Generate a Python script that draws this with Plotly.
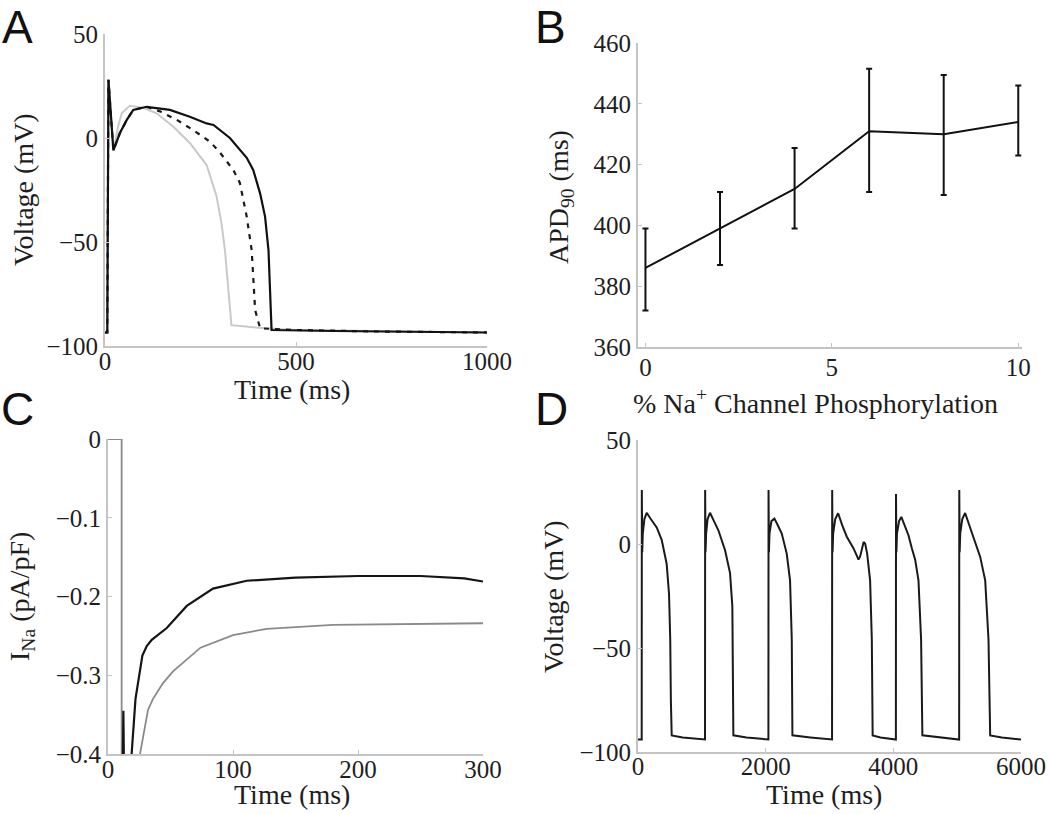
import plotly.graph_objects as go

# ---------------- Panel A : action potentials ----------------
a_black_t = [0, 6, 9, 22, 39, 57, 74, 109, 170, 222, 266, 284, 327, 353, 371, 388, 406, 419, 428, 432, 436, 600, 800, 1000]
a_black_v = [-93.5, -93.5, 28, -6, 2.4, 8.7, 13.5, 15, 13.5, 10.2, 7, 6.3, 0, -5.8, -9.5, -15.4, -26.6, -37.8, -54, -73, -92.3, -92.8, -93.2, -93.5]

a_dash_t = [0, 6, 9, 22, 39, 57, 74, 109, 144, 188, 231, 275, 301, 336, 353, 371, 384, 388, 393, 406, 500, 700, 1000]
a_dash_v = [-93.5, -93.5, 28, -6, 2.4, 8.7, 13.5, 15, 12.8, 8.7, 3.8, -1.8, -7, -15.4, -21.6, -37.8, -54, -70, -82.7, -91.5, -92.3, -93, -93.5]

a_gray_t = [0, 6, 9, 22, 35, 44, 65, 100, 135, 179, 222, 266, 292, 305, 314, 323, 331, 400, 500, 1000]
a_gray_v = [-93.5, -93.5, 28, -6, 6, 12, 15.5, 14.5, 11.9, 5.4, -2.4, -13, -28, -41, -54, -73, -90, -91.2, -92.3, -93.5]

# ---------------- Panel B : APD90 vs phosphorylation ----------------
b_phos = [0, 2, 4, 6, 8, 10]
b_apd = [386, 399, 412, 431, 430, 434]
b_err_hi = [13, 12, 13.5, 20.5, 19.5, 12]
b_err_lo = [14, 12, 13, 20, 20, 11]

# ---------------- Panel C : late sodium current ----------------
c_black_t = [11.3, 12.3, 13.3, 17, 18.9, 22, 25.6, 27.5, 31, 35, 47, 63, 84, 111, 150, 200, 250, 285, 300]
c_black_v = [-0.5, -0.345, -0.5, -0.7, -0.4, -0.33, -0.29, -0.275, -0.263, -0.255, -0.24, -0.212, -0.19, -0.18, -0.176, -0.174, -0.174, -0.177, -0.181]

c_gray_t = [0, 10.9, 11.0, 20, 25.6, 32, 36, 44, 52, 74, 100, 127, 180, 240, 300]
c_gray_v = [0, 0, -5, -0.8, -0.4, -0.344, -0.33, -0.31, -0.295, -0.265, -0.249, -0.241, -0.236, -0.235, -0.234]

# ---------------- Panel D : beat-to-beat variability ----------------
d_beats_t = [
    [0, 58, 60, 66, 75, 100, 136, 200, 293, 371, 449, 486, 505, 515, 528, 700],
    [1050, 1052, 1058, 1067, 1090, 1128, 1190, 1259, 1364, 1442, 1478, 1488, 1494, 1700],
    [2043, 2045, 2051, 2060, 2090, 2137, 2190, 2252, 2330, 2382, 2409, 2419, 2700],
    [3040, 3042, 3048, 3057, 3090, 3135, 3200, 3271, 3375, 3455, 3480, 3506, 3535, 3560, 3590, 3636, 3663, 3676, 3800],
    [4040, 4042, 4048, 4057, 4090, 4125, 4190, 4237, 4290, 4342, 4394, 4435, 4455, 4700],
    [5031, 5033, 5039, 5048, 5080, 5125, 5190, 5256, 5361, 5439, 5491, 5517, 5700, 6000],
]
d_beats_v = [
    [-94, -94, 26, -4, 5, 12, 15, 12, 8, 2, -9.5, -24, -46, -75, -92, -93],
    [-94, 26, -4, 5, 12, 15, 11, 6.6, -3, -14, -30, -60, -92, -93],
    [-94, 26, -4, 5, 11, 12.2, 9, 5, -4.6, -17.5, -46, -92, -93],
    [-94, 26, -4, 5, 12, 14.8, 9, 3.5, -2, -7.5, -6, -2, 1, 0, -4.6, -17.5, -46, -92, -93],
    [-94, 24, -4, 5, 11, 13, 8, 4.2, -2, -7.5, -17.5, -46, -92, -93],
    [-94, 26, -4, 5, 12, 14.9, 9, 3.4, -6.2, -17.5, -46, -92, -93, -94],
]
d_t = [t for beat in d_beats_t for t in beat]
d_v = [v for beat in d_beats_v for v in beat]

# ---------------- Text ----------------
panel_letters = ["A", "B", "C", "D"]
x_titles = ["Time (ms)", "% Na<sup>+</sup> Channel Phosphorylation", "Time (ms)", "Time (ms)"]
y_titles = ["Voltage (mV)", "APD<sub>90</sub> (ms)", "I<sub>Na</sub> (pA/pF)", "Voltage (mV)"]

# ---------------- Figure ----------------
W, H = 1050, 814
SERIF = "Liberation Serif"
SANS = "Liberation Sans"
AXC = "#c4c4c4"
TXT = "#1e1e1e"


def px_dom(a, b, total, flip=False):
    if flip:
        return [1 - b / total, 1 - a / total]
    return [a / total, b / total]


fig = go.Figure()

fig.add_trace(go.Scatter(x=a_gray_t, y=a_gray_v, mode="lines", line=dict(color="#c9c9c9", width=2),
                         xaxis="x", yaxis="y", showlegend=False))
fig.add_trace(go.Scatter(x=a_dash_t, y=a_dash_v, mode="lines", line=dict(color="#1a1a1a", width=2.2, dash="5px,6px"),
                         xaxis="x", yaxis="y", showlegend=False))
fig.add_trace(go.Scatter(x=a_black_t, y=a_black_v, mode="lines", line=dict(color="#111111", width=2.2),
                         xaxis="x", yaxis="y", showlegend=False))

fig.add_trace(go.Scatter(x=b_phos, y=b_apd, mode="lines", line=dict(color="#111111", width=2),
                         error_y=dict(type="data", symmetric=False, array=b_err_hi, arrayminus=b_err_lo,
                                      color="#111111", thickness=2, width=3),
                         xaxis="x2", yaxis="y2", showlegend=False))

fig.add_trace(go.Scatter(x=c_gray_t, y=c_gray_v, mode="lines", line=dict(color="#8a8a8a", width=1.8),
                         xaxis="x3", yaxis="y3", showlegend=False))
fig.add_trace(go.Scatter(x=c_black_t, y=c_black_v, mode="lines", line=dict(color="#151515", width=2.2),
                         xaxis="x3", yaxis="y3", showlegend=False))

fig.add_trace(go.Scatter(x=d_t, y=d_v, mode="lines", line=dict(color="#1a1a1a", width=2),
                         xaxis="x4", yaxis="y4", showlegend=False))

tickfont = dict(family=SERIF, size=25, color=TXT)
titlefont = dict(family=SERIF, size=28, color=TXT)


def axis(domain, rng, tickvals, anchor, standoff=0):
    return dict(domain=domain, range=rng, tickvals=tickvals, anchor=anchor,
                showline=True, linecolor=AXC, linewidth=2, showgrid=False, zeroline=False,
                ticks="inside", ticklen=4, tickcolor=AXC, tickwidth=1, automargin=False,
                tickfont=tickfont, ticklabelstandoff=standoff, fixedrange=True)


fig.update_layout(
    width=W, height=H, margin=dict(l=0, r=0, t=0, b=0, autoexpand=False),
    paper_bgcolor="white", plot_bgcolor="white", hovermode=False,
    xaxis=axis(px_dom(105, 487, W), [0, 1000], [0, 500, 1000], "y", -8),
    yaxis=axis(px_dom(34, 346, H, True), [-100, 50], [-100, -50, 0, 50], "x"),
    xaxis2=axis(px_dom(638, 1022, W), [-0.2, 10.1], [0, 5, 10], "y2", -3),
    yaxis2=axis(px_dom(43, 347, H, True), [360, 460], [360, 380, 400, 420, 440, 460], "x2"),
    xaxis3=axis(px_dom(108, 483, W), [0, 300], [0, 100, 200, 300], "y3", -8),
    yaxis3=axis(px_dom(439, 754, H, True), [-0.4, 0], [-0.4, -0.3, -0.2, -0.1, 0], "x3"),
    xaxis4=axis(px_dom(638, 1021, W), [0, 6000], [0, 2000, 4000, 6000], "y4", -9),
    yaxis4=axis(px_dom(440, 752, H, True), [-100, 50], [-100, -50, 0, 50], "x4"),
)

# axis titles (centres in page pixels)
x_title_pos = [(292, 389), (815, 401), (292, 794), (824, 794)]
y_title_pos = [(23, 190), (560, 197), (21, 597), (553, 597)]
for text, (tx, ty) in zip(x_titles, x_title_pos):
    fig.add_annotation(text=text, xref="paper", yref="paper", x=tx / W, y=1 - ty / H,
                       xanchor="center", yanchor="middle", showarrow=False, font=titlefont)
for text, (tx, ty) in zip(y_titles, y_title_pos):
    fig.add_annotation(text=text, xref="paper", yref="paper", x=tx / W, y=1 - ty / H, textangle=-90,
                       xanchor="center", yanchor="middle", showarrow=False, font=titlefont)

letter_pos = [(1, 0), (534, 0), (0, 382), (534, 382)]
for letter, (lx, ly) in zip(panel_letters, letter_pos):
    fig.add_annotation(text=letter, xref="paper", yref="paper", x=lx / W, y=1 - ly / H,
                       xanchor="left", yanchor="top", showarrow=False, borderpad=0,
                       font=dict(family=SANS, size=46, color="#111111"))

fig.write_html("out.html", config={"displayModeBar": False, "staticPlot": True},
               post_script="document.body.style.margin='0px';")
